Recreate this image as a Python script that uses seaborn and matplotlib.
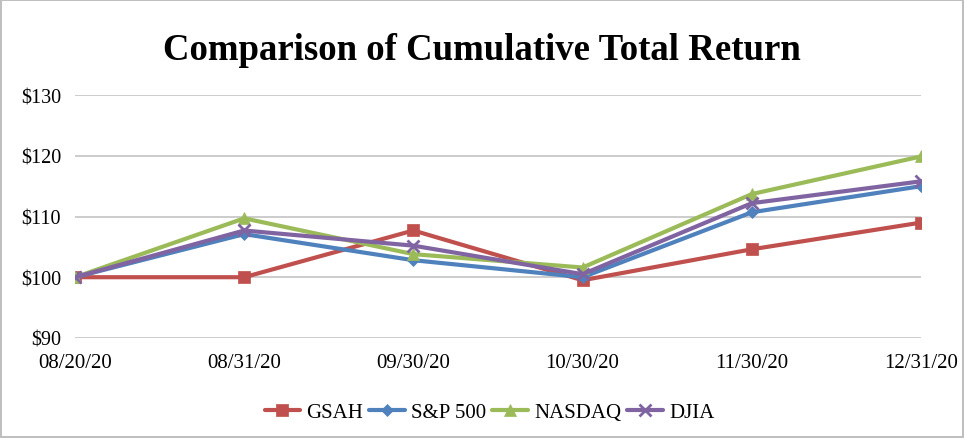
import matplotlib
matplotlib.use("Agg")
import matplotlib.pyplot as plt
import seaborn as sns
import pandas as pd

# Data
dates = ["08/20/20", "08/31/20", "09/30/20", "10/30/20", "11/30/20", "12/31/20"]
gsah = [100, 100, 107.7, 99.5, 104.6, 109.0]
sp500 = [100, 107.1, 102.8, 100.0, 110.7, 115.0]
nasdaq = [100, 109.7, 103.8, 101.6, 113.7, 119.9]
djia = [100, 107.7, 105.2, 100.5, 112.2, 115.8]

series = ["GSAH", "S&P 500", "NASDAQ", "DJIA"]
colors = ["#C0504D", "#4F81BD", "#9BBB59", "#8064A2"]
markers = ["s", "D", "^", "x"]
msizes = [9, 6, 9, 8]

df = pd.DataFrame({"date": dates * 4,
                   "pos": list(range(len(dates))) * 4,
                   "value": gsah + sp500 + nasdaq + djia,
                   "series": sum([[s] * len(dates) for s in series], [])})

sns.set_theme(style="white")
plt.rcParams["font.family"] = ["Liberation Serif", "DejaVu Serif"]
plt.rcParams["text.color"] = "black"
plt.rcParams["xtick.color"] = "black"
plt.rcParams["ytick.color"] = "black"

fig = plt.figure(figsize=(9.64, 4.39), dpi=100)
fig.patch.set_edgecolor("#bfbfbf")
fig.patch.set_linewidth(1.5)
ax = fig.add_axes([0.0778, 0.228, 0.8776, 0.553])

for s, c, m, ms in zip(series, colors, markers, msizes):
    sub = df[df["series"] == s]
    sns.lineplot(data=sub, x="pos", y="value", ax=ax, color=c, marker=m,
                 markersize=ms, markeredgecolor=c, markeredgewidth=2 if m == "x" else 0.5,
                 linewidth=3, label=s)

ax.set_xlim(0, len(dates) - 1)
ax.set_ylim(90, 130)
ax.set_yticks([90, 100, 110, 120, 130])
ax.set_yticklabels([f"${v}" for v in [90, 100, 110, 120, 130]], fontsize=14.5)
ax.set_xticks(range(len(dates)))
ax.set_xticklabels(dates, fontsize=15)
ax.tick_params(axis="x", pad=11, length=0)
ax.tick_params(axis="y", pad=10, length=0)
ax.yaxis.grid(True, color="#c8c8c8", linewidth=1.3)
ax.set_axisbelow(True)
for sp in ax.spines.values():
    sp.set_visible(False)
ax.set_xlabel("")
ax.set_ylabel("")

fig.suptitle("Comparison of Cumulative Total Return", y=0.925,
             fontsize=26.5, fontweight="bold")

ax.legend(loc="upper center", bbox_to_anchor=(0.49, -0.19), ncol=4, frameon=False,
          fontsize=15, handlelength=1.7, columnspacing=0.3, handletextpad=0.3)

fig.savefig("out.png", dpi=100, edgecolor=fig.get_edgecolor())
